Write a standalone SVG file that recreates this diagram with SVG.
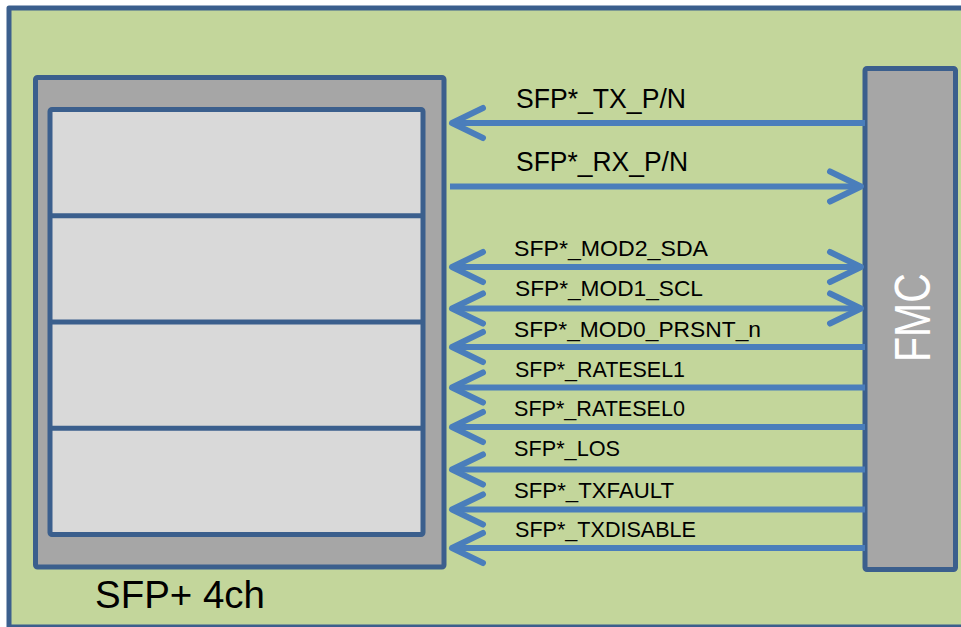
<svg xmlns="http://www.w3.org/2000/svg" width="961" height="627" viewBox="0 0 961 627">
<style>
.box{stroke:#3B5F8D;stroke-width:5;stroke-linejoin:round}
.sig{stroke:#4A7EBB;stroke-width:6;fill:none}
.lbl{font-family:"Liberation Sans",Arial,sans-serif;fill:#000}
.big{font-size:27px}
.sm{font-size:22px}
</style>
<defs>
<marker id="ah" markerUnits="userSpaceOnUse" markerWidth="50" markerHeight="50" viewBox="-40 -25 50 50" refX="0" refY="0" orient="auto-start-reverse" overflow="visible">
<path d="M-31,-15 L0,0 L-31,15" fill="none" stroke="#4A7EBB" stroke-width="6" stroke-linecap="round" stroke-linejoin="round"/>
</marker>
</defs>
<rect x="0" y="0" width="961" height="627" fill="#FFFFFF"/>
<g id="frame">
<rect x="9" y="8" width="1000" height="619" fill="#C3D69B" class="box"/>
</g>
<g id="sfp">
<rect x="35.5" y="77.5" width="408.5" height="489.5" rx="2" fill="#A6A6A6" class="box"/>
<rect x="50" y="109.5" width="373" height="425" rx="2" fill="#D9D9D9" class="box"/>
<line x1="50" y1="215.75" x2="423" y2="215.75" class="box"/>
<line x1="50" y1="322" x2="423" y2="322" class="box"/>
<line x1="50" y1="428.25" x2="423" y2="428.25" class="box"/>
<text class="lbl" x="95" y="608" font-size="39" textLength="170" lengthAdjust="spacingAndGlyphs">SFP+ 4ch</text>
</g>
<g id="fmc">
<rect x="865" y="68.5" width="90.5" height="501" rx="2" fill="#A6A6A6" class="box"/>
<text class="lbl" transform="translate(930,317.5) rotate(-90)" x="0" y="0" text-anchor="middle" font-size="50" style="fill:#FFFFFF" textLength="89" lengthAdjust="spacingAndGlyphs">FMC</text>
</g>
<g id="connectors">
<line x1="865" y1="123" x2="452" y2="123" class="sig" marker-end="url(#ah)"/>
<line x1="450" y1="186.5" x2="861" y2="186.5" class="sig" marker-end="url(#ah)"/>
<line x1="452" y1="267" x2="861" y2="267" class="sig" marker-start="url(#ah)" marker-end="url(#ah)"/>
<line x1="452" y1="308.5" x2="861" y2="308.5" class="sig" marker-start="url(#ah)" marker-end="url(#ah)"/>
<line x1="865" y1="347" x2="452" y2="347" class="sig" marker-end="url(#ah)"/>
<line x1="865" y1="387.5" x2="452" y2="387.5" class="sig" marker-end="url(#ah)"/>
<line x1="865" y1="427" x2="452" y2="427" class="sig" marker-end="url(#ah)"/>
<line x1="865" y1="469.5" x2="452" y2="469.5" class="sig" marker-end="url(#ah)"/>
<line x1="865" y1="509.5" x2="452" y2="509.5" class="sig" marker-end="url(#ah)"/>
<line x1="865" y1="548" x2="452" y2="548" class="sig" marker-end="url(#ah)"/>
</g>
<g id="labels">
<text class="lbl big" x="516" y="108" textLength="170" lengthAdjust="spacingAndGlyphs">SFP*_TX_P/N</text>
<text class="lbl big" x="516" y="171" textLength="172" lengthAdjust="spacingAndGlyphs">SFP*_RX_P/N</text>
<text class="lbl sm" x="514" y="256" textLength="194" lengthAdjust="spacingAndGlyphs">SFP*_MOD2_SDA</text>
<text class="lbl sm" x="515" y="296" textLength="188" lengthAdjust="spacingAndGlyphs">SFP*_MOD1_SCL</text>
<text class="lbl sm" x="514" y="337" textLength="247" lengthAdjust="spacingAndGlyphs">SFP*_MOD0_PRSNT_n</text>
<text class="lbl sm" x="515" y="377" textLength="170" lengthAdjust="spacingAndGlyphs">SFP*_RATESEL1</text>
<text class="lbl sm" x="514" y="416" textLength="171" lengthAdjust="spacingAndGlyphs">SFP*_RATESEL0</text>
<text class="lbl sm" x="514" y="456" textLength="106" lengthAdjust="spacingAndGlyphs">SFP*_LOS</text>
<text class="lbl sm" x="514" y="498" textLength="160" lengthAdjust="spacingAndGlyphs">SFP*_TXFAULT</text>
<text class="lbl sm" x="515" y="537" textLength="181" lengthAdjust="spacingAndGlyphs">SFP*_TXDISABLE</text>
</g>
</svg>
